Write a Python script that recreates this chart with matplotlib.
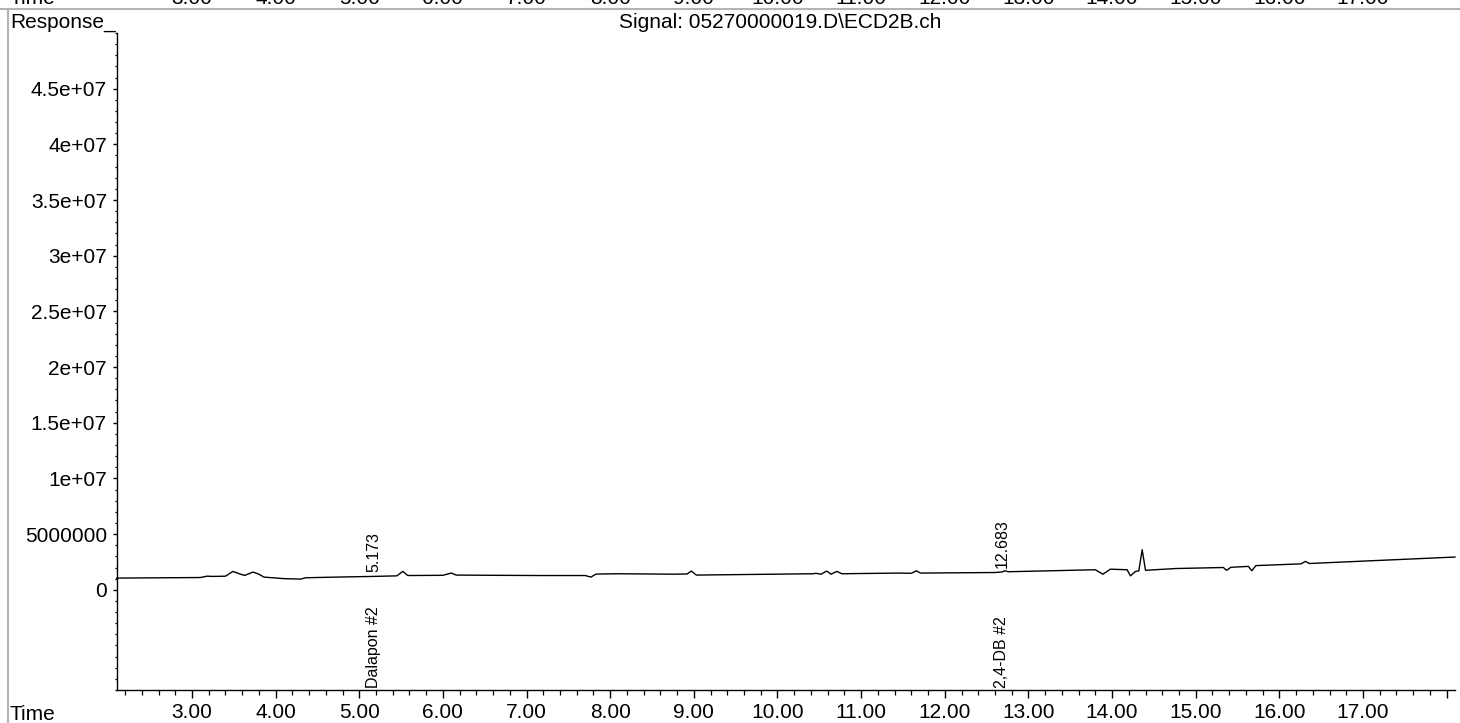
import matplotlib
matplotlib.use("Agg")
import matplotlib.pyplot as plt
from matplotlib.lines import Line2D
from matplotlib.ticker import FixedLocator, MultipleLocator
import matplotlib.transforms as mtransforms
import numpy as np

plt.rcParams["font.family"] = ["Liberation Sans", "DejaVu Sans"]

# chromatogram trace (retention time in min, response)
time_min = [2.10, 3.10, 3.18, 3.25, 3.40, 3.49, 3.58, 3.63, 3.73, 3.80, 3.86,
            4.10, 4.30, 4.36, 4.80, 5.17, 5.45, 5.52, 5.58, 6.00, 6.10, 6.16,
            6.60, 7.16, 7.70, 7.77, 7.83, 8.10, 8.75, 8.92, 8.97, 9.03, 10.43,
            10.46, 10.52, 10.59, 10.64, 10.71, 10.77, 11.46, 11.60, 11.66,
            11.71, 12.60, 12.683, 12.72, 12.76, 13.80, 13.89, 13.98, 14.18,
            14.22, 14.28, 14.32, 14.36, 14.40, 14.77, 15.33, 15.37, 15.42,
            15.63, 15.67, 15.72, 16.26, 16.31, 16.36, 18.10]
response = [1.05e6, 1.10e6, 1.22e6, 1.20e6, 1.22e6, 1.65e6, 1.40e6, 1.29e6,
            1.59e6, 1.40e6, 1.14e6, 1.00e6, 0.96e6, 1.08e6, 1.15e6, 1.20e6,
            1.25e6, 1.65e6, 1.28e6, 1.30e6, 1.50e6, 1.32e6, 1.30e6, 1.28e6,
            1.28e6, 1.14e6, 1.41e6, 1.44e6, 1.40e6, 1.42e6, 1.68e6, 1.32e6,
            1.44e6, 1.48e6, 1.40e6, 1.68e6, 1.40e6, 1.65e6, 1.44e6, 1.50e6,
            1.48e6, 1.70e6, 1.50e6, 1.55e6, 1.60e6, 1.70e6, 1.62e6, 1.80e6,
            1.40e6, 1.85e6, 1.80e6, 1.25e6, 1.65e6, 1.70e6, 3.60e6, 1.75e6,
            1.91e6, 2.00e6, 1.75e6, 2.02e6, 2.10e6, 1.71e6, 2.17e6, 2.33e6,
            2.55e6, 2.36e6, 2.94e6]

# integrated peaks
peak_rt = [5.173, 12.683]
peak_names = ["Dalapon #2", "2,4-DB #2"]

x_major = [3, 4, 5, 6, 7, 8, 9, 10, 11, 12, 13, 14, 15, 16, 17, 18]
x_labels = ["3.00", "4.00", "5.00", "6.00", "7.00", "8.00", "9.00", "10.00",
            "11.00", "12.00", "13.00", "14.00", "15.00", "16.00", "17.00", ""]
y_major = [0, 5e6, 1e7, 1.5e7, 2e7, 2.5e7, 3e7, 3.5e7, 4e7, 4.5e7]
y_labels = ["0", "5000000", "1e+07", "1.5e+07", "2e+07", "2.5e+07", "3e+07",
            "3.5e+07", "4e+07", "4.5e+07"]

signal_name = "Signal: 05270000019.D\\ECD2B.ch"

W, H = 1460, 723
fig = plt.figure(figsize=(W / 100, H / 100), dpi=100)
ax = fig.add_axes([116.7 / W, 1 - 690 / H, (1455 - 116.7) / W, (690 - 33) / H])

ax.plot(time_min, response, color="black", lw=1.0, clip_on=False)

ax.set_xlim(2.1, 18.1)
ax.set_ylim(-9e6, 5e7)

for s in ["top", "right"]:
    ax.spines[s].set_visible(False)
for s in ["left", "bottom"]:
    ax.spines[s].set_linewidth(1.0)

ax.xaxis.set_major_locator(FixedLocator(x_major))
ax.set_xticklabels(x_labels)
ax.xaxis.set_minor_locator(MultipleLocator(0.2))
ax.yaxis.set_major_locator(FixedLocator(y_major))
ax.set_yticklabels(y_labels)
ax.yaxis.set_minor_locator(MultipleLocator(1e6))

ax.tick_params(axis="x", which="major", length=5.5, width=1.0, labelsize=15, pad=4)
ax.tick_params(axis="x", which="minor", length=3.5, width=0.9)
ax.tick_params(axis="y", which="major", length=3, width=1.0, labelsize=15, pad=4)
ax.tick_params(axis="y", which="minor", length=1.5, width=0.9)

# peak annotations
for rt, name in zip(peak_rt, peak_names):
    yv = np.interp(rt, time_min, response)
    ax.annotate(f"{rt:.3f}", (rt, yv), xytext=(0, 3), textcoords="offset points",
                rotation=90, ha="center", va="bottom", fontsize=11.5)
    ax.annotate(name, (rt, -9e6), xytext=(0, 1.5), textcoords="offset points",
                rotation=90, ha="center", va="bottom", fontsize=11.5)

# header / footer texts
fig.text(10 / W, 1 - 28 / H, "Response_", fontsize=15, va="baseline", ha="left")
fig.text(780 / W, 1 - 28 / H, signal_name, fontsize=15, va="baseline", ha="center")
fig.text(10 / W, 1 - 720 / H, "Time", fontsize=15, va="baseline", ha="left")

# clipped strip of the previous panel at the very top
trans = mtransforms.blended_transform_factory(ax.transData, fig.transFigure)
fig.text(10 / W, 1 - 4 / H, "Time", fontsize=15, va="baseline", ha="left")
for xv, lab in zip(x_major, x_labels):
    if lab:
        fig.text(xv, 1 - 4 / H, lab, fontsize=15, va="baseline", ha="center",
                 transform=trans)

# gray frame lines
fig.add_artist(Line2D([0, 1], [1 - 9 / H, 1 - 9 / H], transform=fig.transFigure,
                      color="#b4b4b4", lw=1.5))
fig.add_artist(Line2D([8 / W, 8 / W], [0, 1 - 9 / H], transform=fig.transFigure,
                      color="#b4b4b4", lw=1.5))

fig.savefig("out.png", dpi=100)
